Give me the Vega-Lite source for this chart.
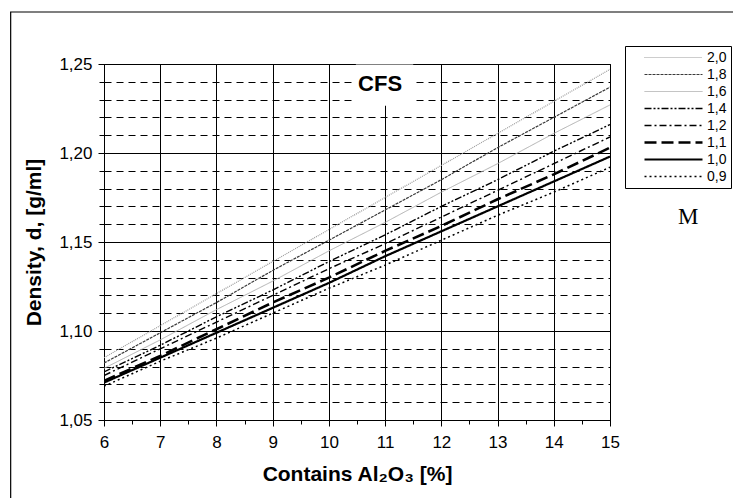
{
  "$schema": "https://vega.github.io/schema/vega-lite/v6.json",
  "width": 506,
  "height": 356,
  "autosize": {"type": "none"},
  "padding": {"left": 104, "top": 64, "right": 123, "bottom": 78},
  "background": "white",
  "config": {
    "view": {"stroke": "black", "strokeWidth": 1},
    "font": "Liberation Sans",
    "axis": {"domainColor": "black", "tickColor": "black", "labelColor": "black", "titleColor": "black", "labelFont": "Liberation Sans", "titleFont": "Liberation Sans"},
    "legend": {
      "orient": "none", "legendX": 521, "legendY": -18,
      "symbolType": "stroke", "symbolSize": 3364, "symbolOffset": 14,
      "clipHeight": 15, "rowPadding": 2, "padding": 4,
      "labelFontSize": 14, "labelFont": "Liberation Sans", "labelColor": "black", "labelOffset": 3,
      "strokeColor": "black", "fillColor": "white"
    }
  },
  "datasets": {
    "curves": [
      {"M": "2,0", "x": 6, "d": 1.085}, {"M": "2,0", "x": 7, "d": 1.103}, {"M": "2,0", "x": 8, "d": 1.121}, {"M": "2,0", "x": 9, "d": 1.139}, {"M": "2,0", "x": 10, "d": 1.157}, {"M": "2,0", "x": 11, "d": 1.175}, {"M": "2,0", "x": 12, "d": 1.193}, {"M": "2,0", "x": 13, "d": 1.211}, {"M": "2,0", "x": 14, "d": 1.229}, {"M": "2,0", "x": 15, "d": 1.247},
      {"M": "1,8", "x": 6, "d": 1.082}, {"M": "1,8", "x": 7, "d": 1.099}, {"M": "1,8", "x": 8, "d": 1.116}, {"M": "1,8", "x": 9, "d": 1.134}, {"M": "1,8", "x": 10, "d": 1.151}, {"M": "1,8", "x": 11, "d": 1.168}, {"M": "1,8", "x": 12, "d": 1.185}, {"M": "1,8", "x": 13, "d": 1.203}, {"M": "1,8", "x": 14, "d": 1.220}, {"M": "1,8", "x": 15, "d": 1.237},
      {"M": "1,6", "x": 6, "d": 1.079}, {"M": "1,6", "x": 7, "d": 1.095}, {"M": "1,6", "x": 8, "d": 1.112}, {"M": "1,6", "x": 9, "d": 1.128}, {"M": "1,6", "x": 10, "d": 1.145}, {"M": "1,6", "x": 11, "d": 1.161}, {"M": "1,6", "x": 12, "d": 1.178}, {"M": "1,6", "x": 13, "d": 1.194}, {"M": "1,6", "x": 14, "d": 1.211}, {"M": "1,6", "x": 15, "d": 1.227},
      {"M": "1,4", "x": 6, "d": 1.077}, {"M": "1,4", "x": 7, "d": 1.092}, {"M": "1,4", "x": 8, "d": 1.108}, {"M": "1,4", "x": 9, "d": 1.123}, {"M": "1,4", "x": 10, "d": 1.139}, {"M": "1,4", "x": 11, "d": 1.154}, {"M": "1,4", "x": 12, "d": 1.170}, {"M": "1,4", "x": 13, "d": 1.185}, {"M": "1,4", "x": 14, "d": 1.201}, {"M": "1,4", "x": 15, "d": 1.216},
      {"M": "1,2", "x": 6, "d": 1.075}, {"M": "1,2", "x": 7, "d": 1.090}, {"M": "1,2", "x": 8, "d": 1.105}, {"M": "1,2", "x": 9, "d": 1.120}, {"M": "1,2", "x": 10, "d": 1.135}, {"M": "1,2", "x": 11, "d": 1.149}, {"M": "1,2", "x": 12, "d": 1.164}, {"M": "1,2", "x": 13, "d": 1.179}, {"M": "1,2", "x": 14, "d": 1.194}, {"M": "1,2", "x": 15, "d": 1.209},
      {"M": "1,1", "x": 6, "d": 1.072}, {"M": "1,1", "x": 7, "d": 1.086}, {"M": "1,1", "x": 8, "d": 1.101}, {"M": "1,1", "x": 9, "d": 1.116}, {"M": "1,1", "x": 10, "d": 1.130}, {"M": "1,1", "x": 11, "d": 1.145}, {"M": "1,1", "x": 12, "d": 1.159}, {"M": "1,1", "x": 13, "d": 1.174}, {"M": "1,1", "x": 14, "d": 1.188}, {"M": "1,1", "x": 15, "d": 1.203},
      {"M": "1,0", "x": 6, "d": 1.071}, {"M": "1,0", "x": 7, "d": 1.085}, {"M": "1,0", "x": 8, "d": 1.099}, {"M": "1,0", "x": 9, "d": 1.113}, {"M": "1,0", "x": 10, "d": 1.127}, {"M": "1,0", "x": 11, "d": 1.142}, {"M": "1,0", "x": 12, "d": 1.156}, {"M": "1,0", "x": 13, "d": 1.170}, {"M": "1,0", "x": 14, "d": 1.184}, {"M": "1,0", "x": 15, "d": 1.198},
      {"M": "0,9", "x": 6, "d": 1.069}, {"M": "0,9", "x": 7, "d": 1.083}, {"M": "0,9", "x": 8, "d": 1.096}, {"M": "0,9", "x": 9, "d": 1.110}, {"M": "0,9", "x": 10, "d": 1.124}, {"M": "0,9", "x": 11, "d": 1.137}, {"M": "0,9", "x": 12, "d": 1.151}, {"M": "0,9", "x": 13, "d": 1.165}, {"M": "0,9", "x": 14, "d": 1.178}, {"M": "0,9", "x": 15, "d": 1.192}
    ],
    "frame": [{"x": 4.34, "x2": 17.6, "d": 1.2792, "d2": 1.0}],
    "labelbox": [{"x": 10.48, "x2": 11.5, "d": 1.2265, "d2": 1.2497}],
    "notes": [{"x": 10.91, "d": 1.2385, "text": "CFS"}],
    "mlabel": [{"x": 16.39, "d": 1.164, "text": "M"}]
  },
  "encoding": {
    "x": {
      "field": "x", "type": "quantitative",
      "scale": {"domain": [6, 15], "nice": false, "zero": false},
      "axis": {
        "title": "Contains Al₂O₃ [%]",
        "titleFontSize": 21, "titleFontWeight": "bold", "titlePadding": 13,
        "values": [6, 6.5, 7, 7.5, 8, 8.5, 9, 9.5, 10, 10.5, 11, 11.5, 12, 12.5, 13, 13.5, 14, 14.5, 15],
        "labelExpr": "datum.value % 1 === 0 ? format(datum.value, 'd') : ''",
        "labelOverlap": false, "labelFlush": false,
        "labelFontSize": 17, "labelPadding": 8,
        "tickSize": {"condition": {"test": "datum.value % 1 === 0", "value": 6}, "value": 4},
        "grid": true, "gridColor": "black",
        "gridOpacity": {"condition": {"test": "datum.value % 1 === 0", "value": 1}, "value": 0}
      }
    },
    "y": {
      "field": "d", "type": "quantitative",
      "scale": {"domain": [1.05, 1.25], "nice": false, "zero": false},
      "axis": {
        "title": "Density, d, [g/ml]",
        "titleFontSize": 21, "titleFontWeight": "bold", "titlePadding": 14,
        "values": [1.05, 1.06, 1.07, 1.08, 1.09, 1.1, 1.11, 1.12, 1.13, 1.14, 1.15, 1.16, 1.17, 1.18, 1.19, 1.2, 1.21, 1.22, 1.23, 1.24, 1.25],
        "labelExpr": "abs(datum.value*20 - round(datum.value*20)) < 0.001 ? replace(format(datum.value, '.2f'), '.', ',') : ''",
        "labelOverlap": false, "labelFlush": false,
        "labelFontSize": 17, "labelPadding": 6,
        "tickSize": {"condition": {"test": "abs(datum.value*20 - round(datum.value*20)) < 0.001", "value": 6}, "value": 5},
        "grid": true, "gridColor": "black",
        "gridDash": {"condition": {"test": "abs(datum.value*20 - round(datum.value*20)) < 0.001", "value": []}, "value": [7, 5]}
      }
    }
  },
  "layer": [
    {
      "data": {"name": "curves"},
      "mark": {"type": "line", "clip": true},
      "encoding": {
        "color": {
          "field": "M", "type": "nominal",
          "scale": {"domain": ["2,0", "1,8", "1,6", "1,4", "1,2", "1,1", "1,0", "0,9"], "range": ["#9a9a9a", "#3a3a3a", "#b0b0b0", "black", "black", "black", "black", "black"]},
          "legend": {"title": null}
        },
        "strokeDash": {
          "field": "M", "type": "nominal",
          "scale": {"domain": ["2,0", "1,8", "1,6", "1,4", "1,2", "1,1", "1,0", "0,9"], "range": [[1, 1], [3, 1], [1, 0], [7, 2, 2, 2, 2, 2], [7, 3, 2, 3], [12, 5], [1, 0], [2, 3]]},
          "legend": {"title": null}
        },
        "strokeWidth": {
          "field": "M", "type": "nominal",
          "scale": {"type": "ordinal", "domain": ["2,0", "1,8", "1,6", "1,4", "1,2", "1,1", "1,0", "0,9"], "range": [1.2, 1.2, 1, 1.4, 1.4, 2.6, 2.2, 1.5]},
          "legend": {"title": null}
        }
      }
    },
    {
      "data": {"name": "labelbox"},
      "mark": {"type": "rect", "fill": "white", "stroke": null},
      "encoding": {
        "x2": {"field": "x2"},
        "y2": {"field": "d2"}
      }
    },
    {
      "data": {"name": "notes"},
      "mark": {"type": "text", "fontSize": 22, "fontWeight": "bold", "font": "Liberation Sans", "color": "black", "align": "center", "baseline": "middle"},
      "encoding": {
        "text": {"field": "text"}
      }
    },
    {
      "data": {"name": "mlabel"},
      "mark": {"type": "text", "fontSize": 23, "font": "Liberation Serif", "color": "black", "align": "center", "baseline": "middle"},
      "encoding": {
        "text": {"field": "text"}
      }
    },
    {
      "data": {"name": "frame"},
      "mark": {"type": "rect", "fill": null, "stroke": "black", "strokeWidth": 1.2, "clip": false},
      "encoding": {
        "x2": {"field": "x2"},
        "y2": {"field": "d2"}
      }
    }
  ]
}
